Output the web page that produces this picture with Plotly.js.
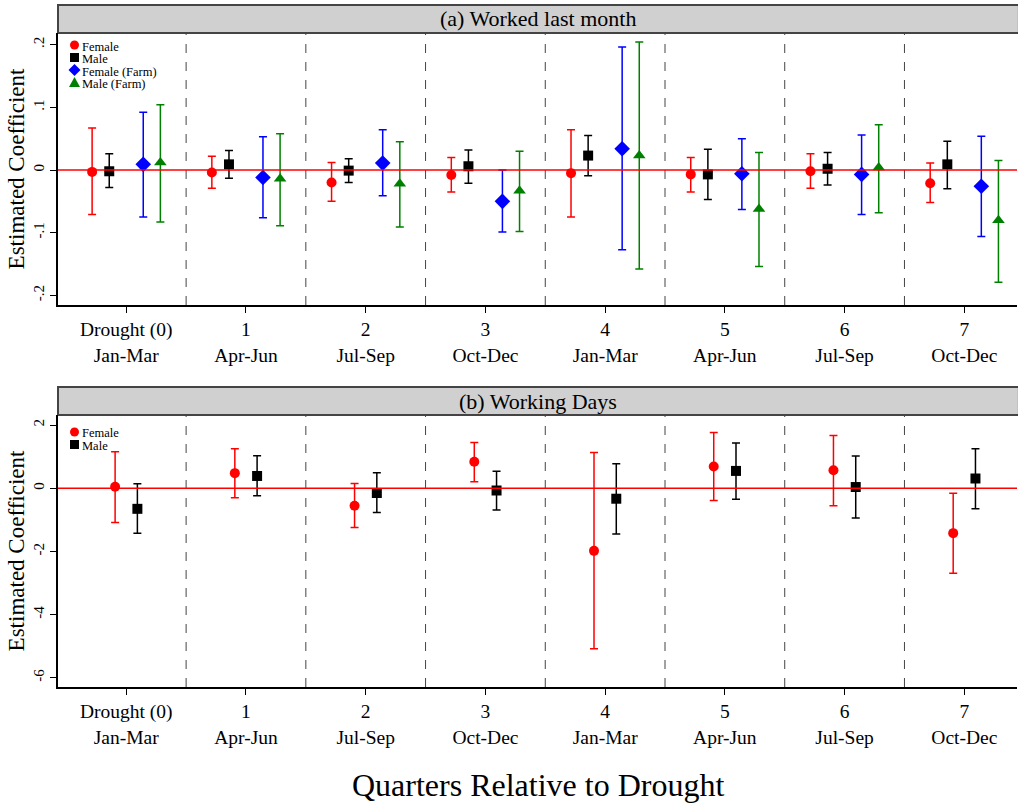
<!DOCTYPE html>
<html><head><meta charset="utf-8">
<script src="https://cdn.plot.ly/plotly-3.0.1.min.js"></script>
<style>html,body{margin:0;padding:0;background:#fff}#chart{width:1018px;height:803px}</style>
</head><body><div id="chart"></div>
<script>
// categories (quarters relative to drought)
const quarters = [0,1,2,3,4,5,6,7];
const tickLabels = ["Drought (0)<br>Jan-Mar","1<br>Apr-Jun","2<br>Jul-Sep","3<br>Oct-Dec","4<br>Jan-Mar","5<br>Apr-Jun","6<br>Jul-Sep","7<br>Oct-Dec"];

// Panel (a): Worked last month
const aFemale      = [-0.003,-0.004,-0.020,-0.008,-0.005,-0.007,-0.002,-0.021];
const aFemaleHi    = [ 0.067, 0.022, 0.012, 0.020, 0.064, 0.020, 0.026, 0.011];
const aFemaleLo    = [-0.071,-0.029,-0.050,-0.035,-0.075,-0.035,-0.029,-0.052];
const aMale        = [-0.002, 0.009,-0.001, 0.006, 0.023,-0.007, 0.002, 0.009];
const aMaleHi      = [ 0.026, 0.031, 0.018, 0.032, 0.055, 0.033, 0.028, 0.046];
const aMaleLo      = [-0.028,-0.013,-0.020,-0.021,-0.009,-0.047,-0.024,-0.030];
const aFemFarm     = [ 0.009,-0.012, 0.011,-0.050, 0.034,-0.006,-0.007,-0.026];
const aFemFarmHi   = [ 0.092, 0.053, 0.064, 0.000, 0.196, 0.050, 0.056, 0.054];
const aFemFarmLo   = [-0.075,-0.076,-0.041,-0.099,-0.127,-0.063,-0.071,-0.106];
const aMaleFarm    = [ 0.012,-0.014,-0.022,-0.033, 0.023,-0.062, 0.004,-0.080];
const aMaleFarmHi  = [ 0.104, 0.058, 0.045, 0.030, 0.204, 0.028, 0.072, 0.015];
const aMaleFarmLo  = [-0.083,-0.089,-0.091,-0.098,-0.158,-0.154,-0.068,-0.179];

// Panel (b): Working Days
const bFemale   = [ 0.05, 0.48,-0.55, 0.84,-1.98, 0.69, 0.57,-1.42];
const bFemaleHi = [ 1.16, 1.25, 0.15, 1.45, 1.13, 1.77, 1.67,-0.16];
const bFemaleLo = [-1.08,-0.30,-1.24, 0.21,-5.08,-0.39,-0.55,-2.69];
const bMale     = [-0.65, 0.39,-0.15,-0.07,-0.33, 0.55, 0.04, 0.31];
const bMaleHi   = [ 0.14, 1.03, 0.49, 0.54, 0.78, 1.43, 1.02, 1.25];
const bMaleLo   = [-1.42,-0.24,-0.77,-0.69,-1.45,-0.35,-0.94,-0.65];

const yTicksA = [0.2,0.1,0,-0.1,-0.2];
const yTextA  = [".2",".1","0","-.1","-.2"];
const yTicksB = [2,0,-2,-4,-6];

const legendA = ["Female","Male","Female (Farm)","Male (Farm)"];
const legendB = ["Female","Male"];

const serif = "Liberation Serif, Times New Roman, serif";
const colors = {Female:'#ff0000', Male:'#000000', 'Female (Farm)':'#0000ff', 'Male (Farm)':'#008000'};
const symbols = {Female:'circle', Male:'square', 'Female (Farm)':'diamond', 'Male (Farm)':'triangle-up'};

function tr(name, xs, off, y, hi, lo, xa, ya){
  const color = colors[name], symbol = symbols[name];
  return {
    type:'scatter', mode:'markers', name:name, showlegend:false,
    x: xs.map(v=>v+off), y:y,
    xaxis:xa, yaxis:ya,
    marker:{color:color, symbol:symbol, size:(symbol==='diamond'?12:(symbol==='triangle-up'?11:10))},
    error_y:{type:'data', symmetric:false,
      array: hi.map((h,i)=>h-y[i]), arrayminus: lo.map((l,i)=>y[i]-l),
      color:color, thickness:1.5, width:4}
  };
}

const data = [
  tr('Female', quarters, -0.285, aFemale, aFemaleHi, aFemaleLo, 'x','y'),
  tr('Male', quarters, -0.142, aMale, aMaleHi, aMaleLo, 'x','y'),
  tr('Female (Farm)', quarters, 0.142, aFemFarm, aFemFarmHi, aFemFarmLo, 'x','y'),
  tr('Male (Farm)', quarters, 0.285, aMaleFarm, aMaleFarmHi, aMaleFarmLo, 'x','y'),
  tr('Female', quarters, -0.093, bFemale, bFemaleHi, bFemaleLo, 'x2','y2'),
  tr('Male', quarters, 0.093, bMale, bMaleHi, bMaleLo, 'x2','y2')
];

// pixel -> paper helpers (plot area: x 58..1017, y 33..687)
const px2x = p => (p-58)/959;
const px2y = p => (687-p)/654;

const shapes = [];
const annotations = [];
// vertical dashed separators
[['x','y'],['x2','y2']].forEach(([xa,ya])=>{
  for(let k=0;k<quarters.length-1;k++){
    shapes.push({type:'line', xref:xa, yref:ya+' domain', x0:quarters[k]+0.5, x1:quarters[k]+0.5, y0:0, y1:1,
      line:{color:'#444', width:1, dash:'dash'}});
  }
});
// zero lines
shapes.push({type:'line', xref:'x domain', yref:'y', x0:0, x1:1, y0:0, y1:0, line:{color:'#ff0000', width:1.5}});
shapes.push({type:'line', xref:'x2 domain', yref:'y2', x0:0, x1:1, y0:0, y1:0, line:{color:'#ff0000', width:1.5}});
// header strips
shapes.push({type:'rect', xref:'paper', yref:'paper', x0:0, x1:1.002, y0:1.0, y1:px2y(5), fillcolor:'#d0d0d0', line:{color:'#444', width:2}, layer:'below'});
shapes.push({type:'rect', xref:'paper', yref:'paper', x0:0, x1:1.002, y0:px2y(415), y1:px2y(387), fillcolor:'#d0d0d0', line:{color:'#444', width:2}, layer:'below'});

// compact in-plot legends (marker shape + text)
function legendSymbol(name, cx, cy){
  const c = colors[name], s = symbols[name];
  const base = {xref:'paper', yref:'paper', xsizemode:'pixel', ysizemode:'pixel', xanchor:px2x(cx), yanchor:px2y(cy), fillcolor:c, line:{color:c, width:0}};
  if(s==='circle') return Object.assign(base,{type:'circle', x0:-4.5, x1:4.5, y0:-4.5, y1:4.5});
  if(s==='square') return Object.assign(base,{type:'rect', x0:-4.5, x1:4.5, y0:-4.5, y1:4.5});
  if(s==='diamond') return Object.assign(base,{type:'path', path:'M-6,0 L0,6 L6,0 L0,-6 Z'});
  return Object.assign(base,{type:'path', path:'M-5.5,-4.5 L5.5,-4.5 L0,5.5 Z'});
}
function addLegend(names, topY){
  names.forEach((n,i)=>{
    const cy = topY + i*12.5;
    shapes.push(legendSymbol(n, 74.5, cy));
    annotations.push({text:n, xref:'paper', yref:'paper', x:px2x(80), y:px2y(cy+1.5), xanchor:'left', yanchor:'middle',
      showarrow:false, font:{family:serif, size:12.5, color:'#000'}});
  });
}
addLegend(legendA, 45);
addLegend(legendB, 432);

annotations.push(
  {text:'(a) Worked last month', xref:'paper', yref:'paper', x:0.5, y:px2y(19), xanchor:'center', yanchor:'middle', showarrow:false, font:{family:serif, size:22, color:'#000'}},
  {text:'(b) Working Days', xref:'paper', yref:'paper', x:0.5, y:px2y(401), xanchor:'center', yanchor:'middle', showarrow:false, font:{family:serif, size:22, color:'#000'}},
  {text:'Quarters Relative to Drought', xref:'paper', yref:'paper', x:0.5, y:px2y(785), xanchor:'center', yanchor:'middle', showarrow:false, font:{family:serif, size:32, color:'#000'}}
);

const xCommon = {
  range:[-0.57, 7.44], tickmode:'array', tickvals:quarters, ticktext:tickLabels,
  ticks:'outside', ticklen:6, tickcolor:'#000', showgrid:false, zeroline:false,
  showline:true, linecolor:'#000', linewidth:2,
  tickfont:{family:serif, size:19.5, color:'#000'}
};
const yCommon = {
  ticks:'outside', ticklen:6, tickcolor:'#000', showgrid:false, zeroline:false,
  showline:true, linecolor:'#000', linewidth:2, tickangle:-90,
  tickfont:{family:serif, size:15, color:'#000'},
  title:{text:'Estimated Coefficient', font:{family:serif, size:23, color:'#000'}, standoff:0}
};

const layout = {
  width:1018, height:803,
  margin:{l:58, r:1, t:33, b:116},
  paper_bgcolor:'#fff', plot_bgcolor:'#fff',
  showlegend:false,
  xaxis: Object.assign({}, xCommon, {anchor:'y', domain:[0,1]}),
  yaxis: Object.assign({}, yCommon, {domain:[px2y(305),1], range:[-0.2153,0.2185], tickvals:yTicksA, ticktext:yTextA}),
  xaxis2: Object.assign({}, xCommon, {anchor:'y2', domain:[0,1]}),
  yaxis2: Object.assign({}, yCommon, {domain:[0,px2y(415)], range:[-6.29,2.32], tickvals:yTicksB, ticktext:yTicksB.map(String)}),
  shapes:shapes,
  annotations:annotations
};

Plotly.newPlot('chart', data, layout, {displayModeBar:false, staticPlot:true});
</script></body></html>
